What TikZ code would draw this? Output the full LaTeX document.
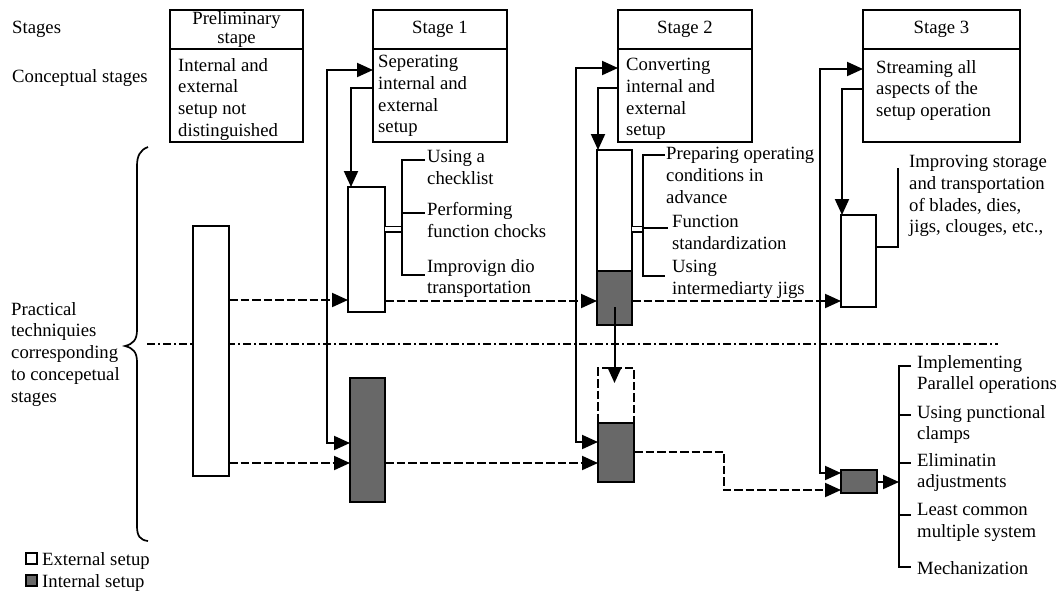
\documentclass[tikz,border=0pt]{standalone}
\usepackage{fontspec}
\setmainfont{Liberation Serif}
\usetikzlibrary{arrows.meta,fit,calc}
\definecolor{setupgray}{RGB}{104,104,104}
\newcommand{\labfont}{\fontsize{18.7}{21.8}\selectfont}

\begin{document}
\begin{tikzpicture}[x=1pt,y=-1pt,
  frame/.style={draw, line width=2pt, inner sep=0pt, outer sep=0pt},
  extbar/.style={frame, fill=white},
  intbar/.style={frame, fill=setupgray},
  txt/.style={font=\labfont, align=left, anchor=north west, inner sep=0pt},
  ttl/.style={font=\fontsize{18.7}{19.5}\selectfont, align=center, inner sep=0pt},
  wire/.style={line width=2pt},
  arr/.style={wire, -{Triangle[length=16pt,width=14pt]}},
  arrboth/.style={wire, {Triangle[length=16pt,width=14pt]}-{Triangle[length=16pt,width=14pt]}},
  dashline/.style={dash pattern=on 8.5pt off 3pt},
  twin/.style={line width=1.9pt, double, double distance=3.2pt},
  sepline/.style={line width=1.5pt, dash pattern=on 8pt off 3pt on 2pt off 3pt}
]
\useasboundingbox (0,0) rectangle (1063,590);

% row captions
\node[txt] (stg) at (12,21) {Stages};
\node[txt] (cst) at (12,69) {Conceptual stages};
\node[txt] (prac) at (11,302) {Practical\\techniquies\\corresponding\\to concepetual\\stages};

% brace
\draw[line width=1.7pt] (148,147) .. controls (140,150) and (137,156) .. (137,166) -- (137,330)
  .. controls (137,340) and (133,344) .. (125,346)
  .. controls (133,348) and (137,352) .. (137,362) -- (137,526)
  .. controls (137,536) and (140,540) .. (148,541);

% stage headers
\node[frame, fit={(170,10) (303,49)}] (preT) {};
\node[ttl] (preTt) at (preT.center) {Preliminary\\stape};
\node[frame, fit={(170,49) (303,142)}] (preB) {};
\node[txt] (preBt) at (178,58) {Internal and\\external\\setup not\\distinguished};

\node[frame, fit={(373,10) (507,49)}] (s1T) {};
\node[ttl] (s1Tt) at (s1T.center) {Stage 1};
\node[frame, fit={(373,49) (507,142)}] (s1B) {};
\node[txt] (s1Bt) at (378,55) {Seperating\\internal and\\external\\setup};

\node[frame, fit={(618,10) (752,49)}] (s2T) {};
\node[ttl] (s2Tt) at (s2T.center) {Stage 2};
\node[frame, fit={(618,49) (752,142)}] (s2B) {};
\node[txt] (s2Bt) at (626,58) {Converting\\internal and\\external\\setup};

\node[frame, fit={(863,10) (1020,49)}] (s3T) {};
\node[ttl] (s3Tt) at (s3T.center) {Stage 3};
\node[frame, fit={(863,49) (1020,142)}] (s3B) {};
\node[txt] (s3Bt) at (876,60) {Streaming all\\aspects of the\\setup operation};

% separator between external and internal rows
\draw[sepline] (147,344) -- (998,344);

% setup bars
\node[extbar, fit={(193,226) (229,476)}] (pre) {};
\node[extbar, fit={(348,187) (385,312)}] (s1W) {};
\node[intbar, fit={(350,378) (385,502)}] (s1D) {};
\node[extbar, fit={(597,150) (632,271)}] (s2W) {};
\node[intbar, fit={(597,271) (632,325)}] (s2D) {};
\node[extbar, dashline, line width=1.7pt, fit={(598,368) (634,423)}] (s2X) {};
\node[intbar, fit={(598,423) (634,482)}] (s2L) {};
\node[extbar, fit={(841,215) (876,307)}] (s3W) {};
\node[intbar, fit={(841,470) (877,493)}] (s3D) {};

% stage feeds
\coordinate (j1) at (327,70);  \coordinate (j1d) at (327,443);
\coordinate (k1) at (351,88);
\coordinate (j2) at (576,68);  \coordinate (j2d) at (576,442);
\coordinate (k2) at (598,88);
\coordinate (j3) at (820,69);  \coordinate (j3d) at (820,473);
\coordinate (k3) at (842,89);
\draw[arrboth] (j1 -| s1B.west) -- (j1) -- (j1d) -- (j1d -| s1D.west);
\draw[arr] (k1 -| s1B.west) -- (k1) -- (k1 |- s1W.north);
\draw[arrboth] (j2 -| s2B.west) -- (j2) -- (j2d) -- (j2d -| s2L.west);
\draw[arr] (k2 -| s2B.west) -- (k2) -- (k2 |- s2W.north);
\draw[arrboth] (j3 -| s3B.west) -- (j3) -- (j3d) -- (j3d -| s3D.west);
\draw[arr] (k3 -| s3B.west) -- (k3) -- (k3 |- s3W.north);

% carry-over between stages
\draw[arr, dashline] (pre.east |- 0,300) -- (s1W.west |- 0,300);
\draw[arr, dashline] (pre.east |- 0,463) -- (s1D.west |- 0,463);
\draw[arr, dashline] (s1W.east |- 0,301) -- (s2D.west |- 0,301);
\draw[arr, dashline] (s1D.east |- 0,463) -- (s2L.west |- 0,463);
\draw[arr, dashline] (s2D.east |- 0,301) -- (s3W.west |- 0,301);
\coordinate (m1) at (724,452); \coordinate (m2) at (724,490);
\draw[arr, dashline] (m1 -| s2L.east) -- (m1) -- (m2) -- (m2 -| s3D.west);
\draw[arr] ($(s2D.center)+(0,9)$) -- ($(s2D.center |- s2X.north)+(0,15)$);

% stage 1 techniques
\coordinate (b1t) at (402,160); \coordinate (b1m) at (402,213); \coordinate (b1b) at (402,275);
\draw[twin] (s1W.east |- 0,229) -- (b1t |- 0,229);
\draw[wire] (425,160) -- (b1t) -- (b1b) -- (425,275);
\draw[wire] (b1m) -- (425,213);
\node[txt] (l1a) at (427,150) {Using a\\checklist};
\node[txt] (l1b) at (427,202) {Performing\\function chocks};
\node[txt] (l1c) at (427,259) {Improvign dio\\transportation};

% stage 2 techniques
\coordinate (b2t) at (643,155); \coordinate (b2m) at (643,228); \coordinate (b2b) at (643,276);
\draw[twin] (s2W.east |- 0,229) -- (b2t |- 0,229);
\draw[wire] (665,155) -- (b2t) -- (b2b) -- (665,276);
\draw[wire] (b2m) -- (668,228);
\node[txt] (l2a) at (666,147) {Preparing operating\\conditions in\\advance};
\node[txt] (l2b) at (672,215) {Function\\standardization};
\node[txt] (l2c) at (672,260) {Using\\intermediarty jigs};

% stage 3 techniques
\coordinate (b3) at (898,168);
\draw[wire] (s3W.east |- 0,247) -| (b3);
\node[txt] (l3a) at (909,155) {Improving storage\\and transportation\\of blades, dies,\\jigs, clouges, etc.,};

\coordinate (b4t) at (899,366); \coordinate (b4b) at (899,567);
\draw[arr] (s3D.east |- 0,482) -- (b4t |- 0,482);
\draw[wire] (911,366) -- (b4t) -- (b4b) -- (911,567);
\draw[wire] (b4t |- 0,415) -- (911,415);
\draw[wire] (b4t |- 0,463) -- (911,463);
\draw[wire] (b4t |- 0,515) -- (911,515);
\node[txt] (l3b) at (917,355) {Implementing\\Parallel operations};
\node[txt] (l3c) at (917,405) {Using punctional\\clamps};
\node[txt] (l3d) at (917,453) {Eliminatin\\adjustments};
\node[txt] (l3e) at (917,503) {Least common\\multiple system};
\node[txt] (l3f) at (917,561) {Mechanization};

% legend
\node[extbar, line width=1.4pt, fit={(26,553) (37,564)}] (lgE) {};
\node[intbar, line width=1.4pt, fit={(26,575) (37,586)}] (lgI) {};
\node[txt] (lgEt) at (42,552) {External setup};
\node[txt] (lgIt) at (42,574) {Internal setup};
\end{tikzpicture}
\end{document}
